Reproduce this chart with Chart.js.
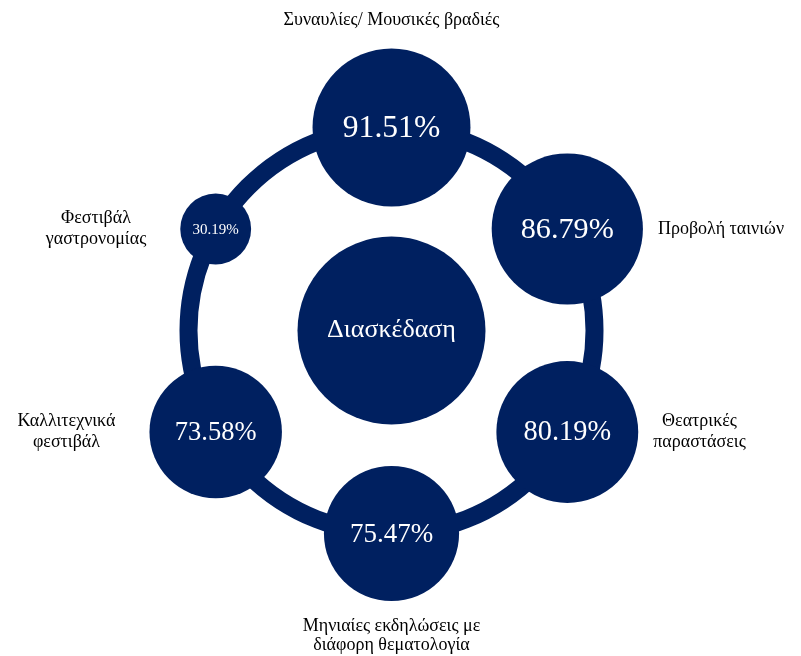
<!DOCTYPE html>
<html>
<head>
<meta charset="utf-8">
<script src="https://cdn.jsdelivr.net/npm/chart.js@4.4.1/dist/chart.umd.min.js"></script>
<style>
  html, body { margin: 0; padding: 0; background: #fff; }
  #wrap { width: 801px; height: 656px; }
</style>
</head>
<body>
<div id="wrap"><canvas id="chart" width="801" height="656"></canvas></div>
<script>
const centerLabel = 'Διασκέδαση';
// clockwise from the top
const categories = [
  ['Συναυλίες/ Μουσικές βραδιές'],
  ['Προβολή ταινιών'],
  ['Θεατρικές', 'παραστάσεις'],
  ['Μηνιαίες εκδηλώσεις με', 'διάφορη θεματολογία'],
  ['Καλλιτεχνικά', 'φεστιβάλ'],
  ['Φεστιβάλ', 'γαστρονομίας']
];
const values = [91.51, 86.79, 80.19, 75.47, 73.58, 30.19];

const NAVY = '#002060';
const FONT = '"Liberation Serif", "Times New Roman", serif';
const RING_R = 203;    // ring radius in axis units (1 unit = 1px)
const CENTER_R = 94;

const bubbleRadius = v => 14 + 0.71 * v;

// each item sits on the ring, one every 60 degrees
const points = values.map((v, i) => {
  const a = Math.PI / 2 - i * Math.PI / 3;
  return { x: RING_R * Math.cos(a), y: RING_R * Math.sin(a), r: bubbleRadius(v) };
});

const ringPlugin = {
  id: 'ring',
  beforeDatasetsDraw(chart) {
    const { ctx, scales: { x, y } } = chart;
    const cx = x.getPixelForValue(0), cy = y.getPixelForValue(0);
    const rad = x.getPixelForValue(RING_R) - cx;
    ctx.save();
    ctx.beginPath();
    ctx.arc(cx, cy, rad, 0, Math.PI * 2);
    ctx.lineWidth = 18;
    ctx.strokeStyle = NAVY;
    ctx.stroke();
    ctx.restore();
  }
};

const labelPlugin = {
  id: 'labels',
  afterDatasetsDraw(chart) {
    const ctx = chart.ctx;
    ctx.save();
    ctx.textBaseline = 'middle';
    ctx.textAlign = 'center';

    const c = chart.getDatasetMeta(0).data[0];
    ctx.fillStyle = '#fff';
    ctx.font = '26px ' + FONT;
    ctx.fillText(centerLabel, c.x, c.y);

    const lineH = 19;
    chart.getDatasetMeta(1).data.forEach((el, i) => {
      const r = el.options.radius;
      // value inside the bubble
      ctx.fillStyle = '#fff';
      ctx.font = Math.max(15, 0.4 * r).toFixed(1) + 'px ' + FONT;
      ctx.fillText(values[i].toFixed(2) + '%', el.x, el.y + 1);

      // category label outside
      const lines = categories[i];
      ctx.fillStyle = '#000';
      ctx.font = '18px ' + FONT;
      const dx = el.x - c.x, dy = el.y - c.y;
      if (Math.abs(dx) < 5) {
        let y0;
        if (dy < 0) y0 = el.y - r - 28 - (lines.length - 1) * lineH;
        else y0 = el.y + r + 25;
        lines.forEach((t, k) => ctx.fillText(t, el.x, y0 + k * lineH));
      } else {
        const w = Math.max(...lines.map(t => ctx.measureText(t).width));
        const mid = dx > 0 ? el.x + r + 15 + w / 2 : el.x - r - 34 - w / 2;
        const y0 = el.y - (lines.length - 1) * 21 / 2;
        lines.forEach((t, k) => ctx.fillText(t, mid, y0 + k * 21));
      }
    });
    ctx.restore();
  }
};

new Chart(document.getElementById('chart'), {
  type: 'bubble',
  data: {
    datasets: [
      {
        label: centerLabel,
        data: [{ x: 0, y: 0, r: CENTER_R }],
        backgroundColor: NAVY,
        borderWidth: 0,
        clip: false
      },
      {
        label: 'items',
        data: points,
        backgroundColor: NAVY,
        borderWidth: 0,
        clip: false
      }
    ]
  },
  options: {
    responsive: false,
    animation: false,
    events: [],
    layout: { padding: 0, autoPadding: false },
    scales: {
      x: { type: 'linear', min: -391.5, max: 409.5, display: false },
      y: { type: 'linear', min: -325.5, max: 330.5, display: false }
    },
    plugins: {
      legend: { display: false },
      tooltip: { enabled: false }
    }
  },
  plugins: [ringPlugin, labelPlugin]
});
</script>
</body>
</html>
